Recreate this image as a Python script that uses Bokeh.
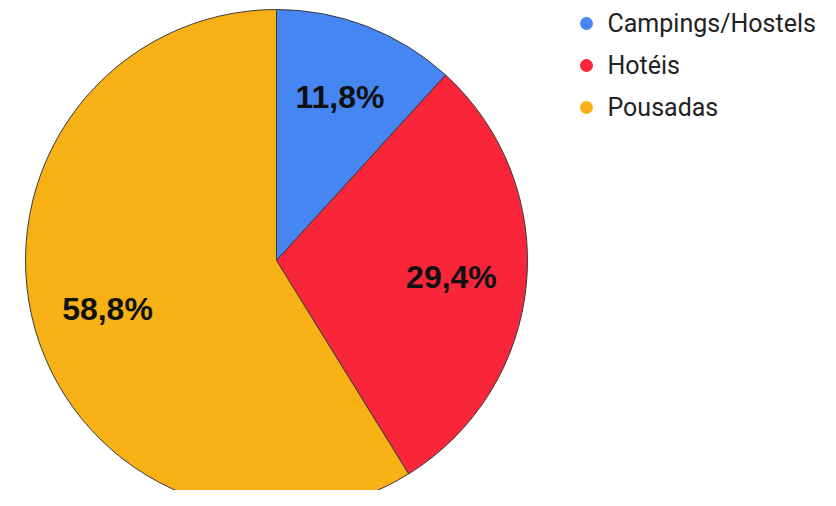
import math
from bokeh.plotting import figure
from bokeh.models import ColumnDataSource, Range1d
from bokeh.core.properties import value
from bokeh.embed import file_html
from bokeh.resources import INLINE

# data
categories = ["Campings/Hostels", "Hotéis", "Pousadas"]
counts = [2, 5, 10]
pct_labels = ["11,8%", "29,4%", "58,8%"]
colors = ["#4586F2", "#F9263A", "#F8B114"]

W, H = 820, 490
p = figure(width=W, height=H, output_backend="svg", toolbar_location=None,
           x_range=Range1d(0, W), y_range=Range1d(0, H), min_border=0,
           background_fill_color="white", border_fill_color="white")
p.axis.visible = False
p.grid.visible = False
p.outline_line_color = None

cx, cy, r = 276, H - 260, 251
total = sum(counts)
starts, ends, lx, ly = [], [], [], []
a = math.pi / 2
for c in counts:
    sweep = 2 * math.pi * c / total
    starts.append(a)
    ends.append(a - sweep)
    mid = a - sweep / 2
    lx.append(cx + 0.70 * r * math.cos(mid))
    ly.append(cy + 0.70 * r * math.sin(mid))
    a -= sweep

src = ColumnDataSource(dict(start=starts, end=ends, color=colors, lx=lx, ly=ly,
                            lab=pct_labels, cat=categories))
p.wedge(x=cx, y=cy, radius=r, start_angle="start", end_angle="end", direction="clock",
        fill_color="color", line_color="#3a3a3a", line_width=1, source=src)
p.text(x="lx", y="ly", text="lab", source=src, text_font=value("Liberation Sans"),
       text_font_style="bold", text_font_size="32px", text_align="center",
       text_baseline="middle", text_color="#111111")

# legend
leg_x = 586
leg_y0 = H - 23
step = 42
ys = [leg_y0 - i * step for i in range(len(categories))]
lsrc = ColumnDataSource(dict(x=[leg_x] * 3, tx=[leg_x + 21] * 3, y=ys, color=colors, cat=categories))
p.scatter(x="x", y="y", size=13, marker="circle", fill_color="color", line_color=None, source=lsrc)
p.text(x="tx", y="y", text="cat", source=lsrc, text_font=value("Roboto"),
       text_font_size="25px", text_baseline="middle", text_color="#222222")

open("out.html", "w").write(file_html(p, INLINE))
